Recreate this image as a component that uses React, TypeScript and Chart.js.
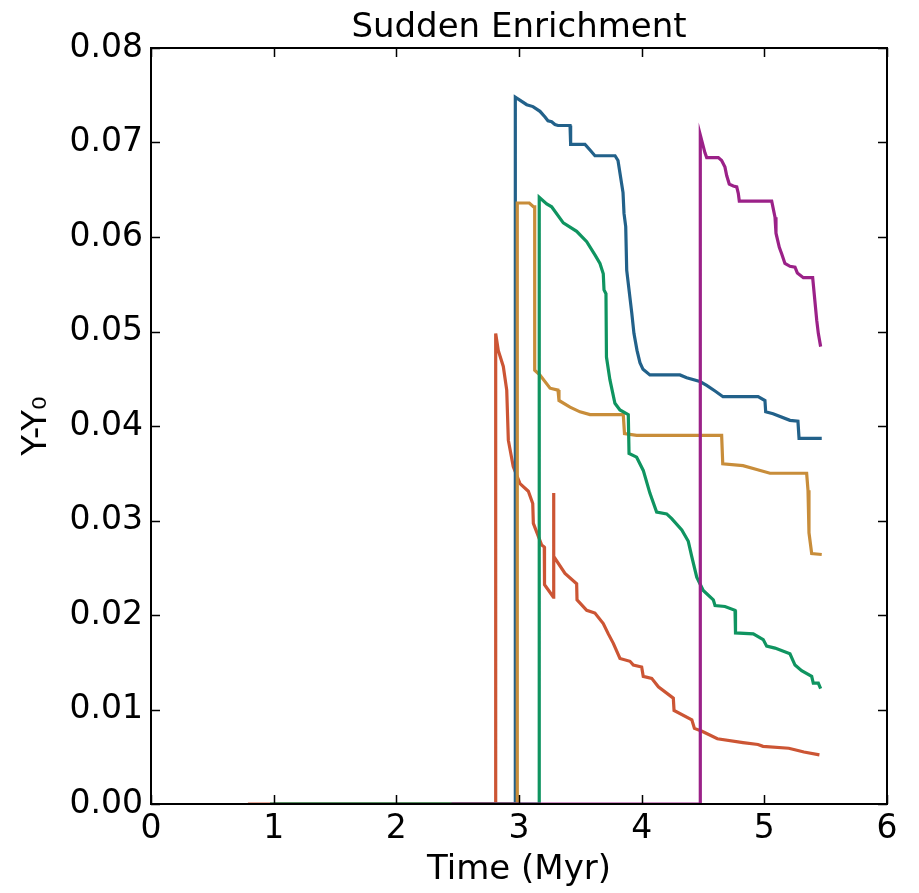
import React, { useEffect, useRef } from "react";
import { Chart, registerables } from "chart.js";

Chart.register(...registerables);

const TITLE = "Sudden Enrichment";
const X_LABEL = "Time (Myr)";
const Y_LABEL = "Y-Y₀";
const X_TICKS = [0, 1, 2, 3, 4, 5, 6];
const Y_TICKS = [0, 0.01, 0.02, 0.03, 0.04, 0.05, 0.06, 0.07, 0.08];

const redT = [0.79, 2.81, 2.81, 2.831, 2.872, 2.9, 2.913, 2.953, 3.008, 3.076, 3.112, 3.117, 3.185, 3.206, 3.208, 3.28, 3.281, 3.285, 3.375, 3.47, 3.473, 3.552, 3.619, 3.687, 3.728, 3.769, 3.823, 3.905, 3.932, 4.0, 4.013, 4.082, 4.136, 4.258, 4.264, 4.409, 4.43, 4.492, 4.617, 4.826, 4.948, 4.989, 5.199, 5.323, 5.449];
const redY = [0, 0, 0.0498, 0.048, 0.0463, 0.0438, 0.0385, 0.0357, 0.0339, 0.0331, 0.0318, 0.0297, 0.0274, 0.0272, 0.0232, 0.0219, 0.0329, 0.0262, 0.0244, 0.0233, 0.0216, 0.0205, 0.0202, 0.0191, 0.018, 0.017, 0.0154, 0.0151, 0.0147, 0.0145, 0.0135, 0.0133, 0.0124, 0.0112, 0.0099, 0.0089, 0.008, 0.0077, 0.0069, 0.0065, 0.0063, 0.0061, 0.0059, 0.0055, 0.0052];

const blueT = [1.0, 2.97, 2.97, 3.063, 3.114, 3.171, 3.212, 3.236, 3.266, 3.293, 3.318, 3.416, 3.421, 3.538, 3.579, 3.619, 3.783, 3.807, 3.848, 3.856, 3.87, 3.878, 3.919, 3.937, 3.962, 3.986, 4.011, 4.067, 4.312, 4.367, 4.475, 4.53, 4.598, 4.663, 4.949, 5.005, 5.011, 5.071, 5.209, 5.274, 5.283, 5.468];
const blueY = [0, 0, 0.0748, 0.074, 0.0738, 0.0733, 0.0727, 0.0723, 0.0722, 0.0719, 0.0718, 0.0718, 0.0698, 0.0698, 0.0692, 0.0686, 0.0686, 0.0681, 0.0647, 0.0625, 0.0611, 0.0565, 0.052, 0.0498, 0.048, 0.0467, 0.046, 0.0454, 0.0454, 0.0451, 0.0447, 0.0443, 0.0437, 0.0431, 0.0431, 0.0427, 0.0415, 0.0413, 0.0406, 0.0405, 0.0387, 0.0387];

const orangeT = [1.0, 2.986, 2.986, 3.084, 3.117, 3.128, 3.128, 3.171, 3.253, 3.318, 3.326, 3.416, 3.497, 3.579, 3.85, 3.86, 3.959, 4.652, 4.661, 4.826, 4.938, 5.046, 5.345, 5.356, 5.364, 5.386, 5.468];
const orangeY = [0, 0, 0.0636, 0.0636, 0.0632, 0.0632, 0.0459, 0.0454, 0.044, 0.0438, 0.0427, 0.042, 0.0415, 0.0412, 0.0412, 0.0392, 0.039, 0.039, 0.036, 0.0358, 0.0354, 0.035, 0.035, 0.0332, 0.0287, 0.0265, 0.0264];

const greenT = [0.97, 3.165, 3.165, 3.226, 3.266, 3.361, 3.47, 3.552, 3.619, 3.66, 3.687, 3.693, 3.709, 3.713, 3.741, 3.782, 3.823, 3.891, 3.897, 3.959, 4.013, 4.067, 4.122, 4.204, 4.245, 4.327, 4.38, 4.408, 4.449, 4.502, 4.584, 4.598, 4.679, 4.761, 4.765, 4.91, 4.991, 5.019, 5.087, 5.209, 5.25, 5.304, 5.386, 5.399, 5.44, 5.459];
const greenY = [0, 0, 0.0642, 0.0635, 0.0632, 0.0615, 0.0606, 0.0595, 0.0581, 0.0572, 0.0561, 0.0544, 0.054, 0.0473, 0.0449, 0.0424, 0.0417, 0.0412, 0.0371, 0.0367, 0.0353, 0.0329, 0.0309, 0.0307, 0.0302, 0.029, 0.0278, 0.0262, 0.024, 0.0226, 0.0216, 0.021, 0.0209, 0.0205, 0.0181, 0.018, 0.0174, 0.0167, 0.0165, 0.0159, 0.0147, 0.0141, 0.0135, 0.0128, 0.0128, 0.0122];

const purpleT = [2.45, 4.478, 4.478, 4.516, 4.53, 4.625, 4.652, 4.679, 4.693, 4.714, 4.747, 4.775, 4.788, 4.796, 5.06, 5.087, 5.095, 5.122, 5.142, 5.168, 5.209, 5.25, 5.269, 5.318, 5.394, 5.427, 5.44, 5.459];
const purpleY = [0, 0, 0.0708, 0.0689, 0.0684, 0.0684, 0.0681, 0.0674, 0.0665, 0.0656, 0.0654, 0.0653, 0.0646, 0.0638, 0.0638, 0.0621, 0.0604, 0.0589, 0.0582, 0.0572, 0.0569, 0.0568, 0.0562, 0.0557, 0.0557, 0.0512, 0.0498, 0.0484];

const SERIES = [
  { name: "red", t: redT, y: redY, color: "#cc5534", order: 4 },
  { name: "blue", t: blueT, y: blueY, color: "#22618a", order: 3 },
  { name: "orange", t: orangeT, y: orangeY, color: "#c88d3a", order: 2 },
  { name: "green", t: greenT, y: greenY, color: "#0f9460", order: 1 },
  { name: "purple", t: purpleT, y: purpleY, color: "#9b2188", order: 0 },
];

const FONT = "'DejaVu Sans', sans-serif";

const framePlugin = {
  id: "frameTicks",
  afterDraw(chart: any) {
    const { ctx, chartArea } = chart;
    const { left, right, top, bottom } = chartArea;
    const xs = chart.scales.x;
    const ys = chart.scales.y;
    const len = 9;
    ctx.save();
    ctx.strokeStyle = "#000";
    ctx.lineWidth = 1.5;
    xs.ticks.forEach((tk: any) => {
      const px = Math.round(xs.getPixelForValue(tk.value)) + 0.5;
      ctx.beginPath();
      ctx.moveTo(px, bottom);
      ctx.lineTo(px, bottom - len);
      ctx.moveTo(px, top);
      ctx.lineTo(px, top + len);
      ctx.stroke();
    });
    ys.ticks.forEach((tk: any) => {
      const py = Math.round(ys.getPixelForValue(tk.value)) + 0.5;
      ctx.beginPath();
      ctx.moveTo(left, py);
      ctx.lineTo(left + len, py);
      ctx.moveTo(right, py);
      ctx.lineTo(right - len, py);
      ctx.stroke();
    });
    ctx.lineWidth = 2;
    ctx.strokeRect(left, top, right - left, bottom - top);
    ctx.fillStyle = "#000";
    ctx.font = `34px ${FONT}`;
    ctx.textAlign = "center";
    ctx.textBaseline = "alphabetic";
    ctx.fillText(TITLE, (left + right) / 2, top - 11);
    ctx.restore();
  },
};

export default function App() {
  const ref = useRef<HTMLCanvasElement>(null);
  useEffect(() => {
    if (!ref.current) return;
    const chart = new Chart(ref.current, {
      type: "line",
      data: {
        datasets: SERIES.map((s) => ({
          label: s.name,
          data: s.t.map((t, i) => ({ x: t, y: s.y[i] })),
          borderColor: s.color,
          backgroundColor: s.color,
          borderWidth: 3.2,
          pointRadius: 0,
          tension: 0,
          fill: false,
          order: s.order,
        })),
      },
      plugins: [framePlugin],
      options: {
        animation: false,
        responsive: false,
        maintainAspectRatio: false,
        layout: { padding: { top: 48, right: 32, bottom: 0, left: 0 } },
        plugins: {
          legend: { display: false },
          tooltip: { enabled: false },
          title: { display: false },
        },
        scales: {
          x: {
            type: "linear",
            min: X_TICKS[0],
            max: X_TICKS[X_TICKS.length - 1],
            afterBuildTicks: (s: any) => {
              s.ticks = X_TICKS.map((v) => ({ value: v }));
            },
            afterFit: (s: any) => {
              s.height = 89;
            },
            grid: { display: false, drawTicks: false },
            border: { display: false },
            ticks: {
              padding: 6,
              color: "#000",
              font: { family: FONT, size: 33 },
              callback: (v: any) => String(v),
              maxRotation: 0,
            },
            title: {
              display: true,
              text: X_LABEL,
              color: "#000",
              font: { family: FONT, size: 34 },
              padding: { top: 0, bottom: 2 },
            },
          },
          y: {
            type: "linear",
            min: Y_TICKS[0],
            max: Y_TICKS[Y_TICKS.length - 1],
            afterBuildTicks: (s: any) => {
              s.ticks = Y_TICKS.map((v) => ({ value: v }));
            },
            afterFit: (s: any) => {
              s.width = 151;
            },
            grid: { display: false, drawTicks: false },
            border: { display: false },
            ticks: {
              padding: 8,
              color: "#000",
              font: { family: FONT, size: 33 },
              callback: (v: any) => Number(v).toFixed(2),
            },
            title: {
              display: true,
              text: Y_LABEL,
              color: "#000",
              font: { family: FONT, size: 34 },
              padding: { top: 17, bottom: 0 },
            },
          },
        },
      },
    } as any);
    return () => chart.destroy();
  }, []);
  return (
    <div style={{ position: "fixed", left: 0, top: 0, width: 919, height: 893, background: "#fff" }}>
      <canvas ref={ref} width={919} height={893} style={{ width: 919, height: 893 }} />
    </div>
  );
}
